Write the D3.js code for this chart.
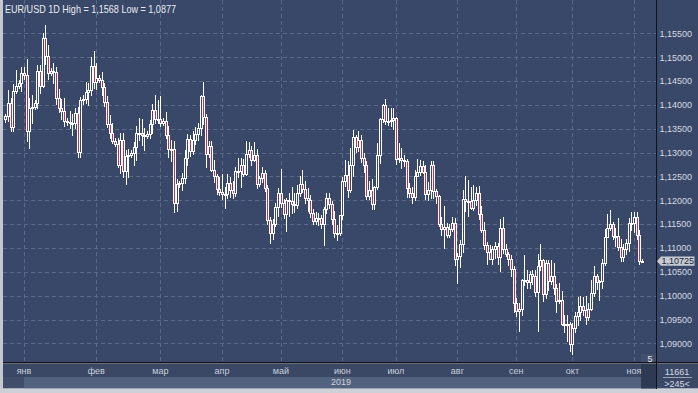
<!DOCTYPE html>
<html><head><meta charset="utf-8">
<script src="https://cdn.jsdelivr.net/npm/d3@7"></script>
<style>html,body{margin:0;padding:0;background:#c9cdd3;overflow:hidden}svg{display:block}</style>
</head><body><svg id="c" width="698" height="393"></svg>
<script>
const dates = [
"2018-12-23","2018-12-24","2018-12-26","2018-12-27","2018-12-28","2018-12-30","2018-12-31",
"2019-01-01","2019-01-02","2019-01-03","2019-01-04","2019-01-06","2019-01-07","2019-01-08","2019-01-09","2019-01-10","2019-01-11","2019-01-13","2019-01-14","2019-01-15","2019-01-16","2019-01-17","2019-01-18","2019-01-20","2019-01-21","2019-01-22","2019-01-23","2019-01-24","2019-01-25","2019-01-27","2019-01-28","2019-01-29","2019-01-30","2019-01-31",
"2019-02-01","2019-02-03","2019-02-04","2019-02-05","2019-02-06","2019-02-07","2019-02-08","2019-02-10","2019-02-11","2019-02-12","2019-02-13","2019-02-14","2019-02-15","2019-02-17","2019-02-18","2019-02-19","2019-02-20","2019-02-21","2019-02-22","2019-02-24","2019-02-25","2019-02-26","2019-02-27","2019-02-28",
"2019-03-01","2019-03-03","2019-03-04","2019-03-05","2019-03-06","2019-03-07","2019-03-08","2019-03-10","2019-03-11","2019-03-12","2019-03-13","2019-03-14","2019-03-15","2019-03-18","2019-03-19","2019-03-20","2019-03-21","2019-03-22","2019-03-25","2019-03-26","2019-03-27","2019-03-28","2019-03-29",
"2019-04-01","2019-04-02","2019-04-03","2019-04-04","2019-04-05","2019-04-08","2019-04-09","2019-04-10","2019-04-11","2019-04-12","2019-04-15","2019-04-16","2019-04-17","2019-04-18","2019-04-19","2019-04-22","2019-04-23","2019-04-24","2019-04-25","2019-04-26","2019-04-29","2019-04-30",
"2019-05-01","2019-05-02","2019-05-03","2019-05-06","2019-05-07","2019-05-08","2019-05-09","2019-05-10","2019-05-13","2019-05-14","2019-05-15","2019-05-16","2019-05-17","2019-05-20","2019-05-21","2019-05-22","2019-05-23","2019-05-24","2019-05-27","2019-05-28","2019-05-29","2019-05-30","2019-05-31",
"2019-06-03","2019-06-04","2019-06-05","2019-06-06","2019-06-07","2019-06-10","2019-06-11","2019-06-12","2019-06-13","2019-06-14","2019-06-17","2019-06-18","2019-06-19","2019-06-20","2019-06-21","2019-06-24","2019-06-25","2019-06-26","2019-06-27","2019-06-28",
"2019-07-01","2019-07-02","2019-07-03","2019-07-04","2019-07-05","2019-07-08","2019-07-09","2019-07-10","2019-07-11","2019-07-12","2019-07-15","2019-07-16","2019-07-17","2019-07-18","2019-07-19","2019-07-22","2019-07-23","2019-07-24","2019-07-25","2019-07-26","2019-07-29","2019-07-30","2019-07-31",
"2019-08-01","2019-08-02","2019-08-05","2019-08-06","2019-08-07","2019-08-08","2019-08-09","2019-08-12","2019-08-13","2019-08-14","2019-08-15","2019-08-16","2019-08-19","2019-08-20","2019-08-21","2019-08-22","2019-08-23","2019-08-26","2019-08-27","2019-08-28","2019-08-29","2019-08-30",
"2019-09-02","2019-09-03","2019-09-04","2019-09-05","2019-09-06","2019-09-09","2019-09-10","2019-09-11","2019-09-12","2019-09-13","2019-09-16","2019-09-17","2019-09-18","2019-09-19","2019-09-20","2019-09-23","2019-09-24","2019-09-25","2019-09-26","2019-09-27","2019-09-30",
"2019-10-01","2019-10-02","2019-10-03","2019-10-04","2019-10-07","2019-10-08","2019-10-09","2019-10-10","2019-10-11","2019-10-14","2019-10-15","2019-10-16","2019-10-17","2019-10-18","2019-10-21","2019-10-22","2019-10-23","2019-10-24","2019-10-25","2019-10-28","2019-10-29","2019-10-30","2019-10-31",
"2019-11-01","2019-11-04","2019-11-05","2019-11-06"];

const open = [
1.1370,1.1376,1.1405,1.1353,1.1430,1.1440,1.1445,
1.1467,1.1462,1.1345,1.1393,1.1395,1.1405,1.1471,1.1440,1.1540,1.1502,1.1468,1.1472,1.1470,1.1415,1.1393,1.1388,1.1366,1.1365,1.1362,1.1362,1.1384,1.1302,1.1410,1.1412,1.1428,1.1432,1.1481,
1.1448,1.1456,1.1452,1.1437,1.1406,1.1361,1.1342,1.1325,1.1318,1.1275,1.1326,1.1261,1.1294,1.1296,1.1300,1.1311,1.1342,1.1342,1.1337,1.1334,1.1340,1.1359,1.1390,1.1371,
1.1371,1.1363,1.1366,1.1338,1.1308,1.1307,1.1194,1.1234,1.1236,1.1246,1.1288,1.1328,1.1303,1.1326,1.1340,1.1352,1.1418,1.1375,1.1298,1.1313,1.1263,1.1250,1.1223,
1.1217,1.1214,1.1213,1.1236,1.1221,1.1216,1.1262,1.1262,1.1275,1.1256,1.1297,1.1305,1.1284,1.1295,1.1235,1.1246,1.1258,1.1226,1.1158,1.1131,1.1150,1.1185,
1.1216,1.1195,1.1171,1.1200,1.1198,1.1193,1.1191,1.1215,1.1234,1.1223,1.1205,1.1201,1.1174,1.1157,1.1164,1.1162,1.1150,1.1181,1.1205,1.1192,1.1160,1.1131,1.1132,
1.1169,1.1240,1.1253,1.1222,1.1275,1.1333,1.1312,1.1327,1.1289,1.1274,1.1210,1.1221,1.1193,1.1228,1.1295,1.1370,1.1400,1.1367,1.1366,1.1369,
1.1372,1.1286,1.1288,1.1284,1.1282,1.1225,1.1215,1.1208,1.1252,1.1259,1.1271,1.1260,1.1213,1.1222,1.1274,1.1220,1.1209,1.1150,1.1140,1.1145,1.1127,1.1140,1.1152,
1.1077,1.1084,1.1108,1.1203,1.1199,1.1199,1.1183,1.1201,1.1215,1.1171,1.1138,1.1107,1.1092,1.1077,1.1097,1.1105,1.1082,1.1142,1.1099,1.1088,1.1078,1.1057,
1.0985,1.0968,1.0972,1.1033,1.1034,1.1028,1.1045,1.1042,1.1008,1.1063,1.1074,1.1003,1.1069,1.1030,1.1042,1.1017,1.0990,1.0991,1.0941,1.0939,1.0940,
1.0899,1.0933,1.0957,1.0965,1.0978,1.0971,1.0955,1.0973,1.1005,1.1041,1.1028,1.1031,1.1068,1.1124,1.1143,1.1150,1.1126,1.1126,1.1103,1.1082,1.1098,1.1111,1.1152,
1.1152,1.1166,1.1128,1.1073];

const high = [
1.1380,1.1432,1.1414,1.1443,1.1474,1.1452,1.1480,
1.1480,1.1497,1.1414,1.1420,1.1410,1.1484,1.1484,1.1550,1.1568,1.1525,1.1478,1.1487,1.1480,1.1434,1.1412,1.1414,1.1372,1.1387,1.1381,1.1394,1.1396,1.1417,1.1420,1.1448,1.1445,1.1500,1.1514,
1.1488,1.1462,1.1469,1.1446,1.1418,1.1378,1.1363,1.1330,1.1331,1.1341,1.1341,1.1305,1.1307,1.1305,1.1323,1.1355,1.1372,1.1370,1.1351,1.1345,1.1368,1.1401,1.1420,1.1410,
1.1419,1.1372,1.1386,1.1355,1.1327,1.1324,1.1245,1.1240,1.1257,1.1305,1.1339,1.1338,1.1345,1.1353,1.1362,1.1421,1.1448,1.1380,1.1325,1.1325,1.1285,1.1256,1.1248,
1.1255,1.1229,1.1255,1.1248,1.1240,1.1270,1.1288,1.1288,1.1286,1.1324,1.1323,1.1314,1.1323,1.1308,1.1250,1.1270,1.1264,1.1232,1.1165,1.1160,1.1195,1.1225,
1.1265,1.1203,1.1205,1.1215,1.1229,1.1216,1.1233,1.1251,1.1264,1.1240,1.1225,1.1212,1.1182,1.1176,1.1174,1.1170,1.1185,1.1216,1.1215,1.1198,1.1177,1.1148,1.1170,
1.1248,1.1285,1.1283,1.1309,1.1348,1.1336,1.1345,1.1338,1.1299,1.1283,1.1240,1.1245,1.1231,1.1320,1.1373,1.1402,1.1412,1.1394,1.1394,1.1393,
1.1375,1.1321,1.1309,1.1296,1.1286,1.1236,1.1228,1.1263,1.1286,1.1285,1.1282,1.1275,1.1238,1.1282,1.1283,1.1223,1.1212,1.1165,1.1188,1.1153,1.1150,1.1166,1.1163,
1.1089,1.1117,1.1222,1.1250,1.1243,1.1229,1.1232,1.1229,1.1230,1.1189,1.1154,1.1113,1.1107,1.1104,1.1112,1.1110,1.1160,1.1165,1.1109,1.1092,1.1086,1.1063,
1.0995,1.0985,1.1035,1.1085,1.1055,1.1052,1.1055,1.1055,1.1087,1.1109,1.1076,1.1075,1.1075,1.1075,1.1069,1.1025,1.1026,1.1009,1.0960,1.0960,1.0944,
1.0943,1.0966,1.0998,1.0999,1.0998,1.0999,1.0985,1.1034,1.1063,1.1045,1.1034,1.1077,1.1140,1.1172,1.1179,1.1155,1.1142,1.1163,1.1118,1.1108,1.1119,1.1163,1.1175,
1.1176,1.1176,1.1138,1.1076];

const low = [
1.1365,1.1366,1.1346,1.1345,1.1425,1.1436,1.1430,
1.1455,1.1325,1.1309,1.1362,1.1392,1.1394,1.1426,1.1437,1.1486,1.1455,1.1462,1.1445,1.1403,1.1385,1.1370,1.1355,1.1358,1.1352,1.1336,1.1351,1.1290,1.1290,1.1402,1.1404,1.1400,1.1420,1.1436,
1.1433,1.1448,1.1420,1.1398,1.1354,1.1331,1.1320,1.1314,1.1270,1.1257,1.1249,1.1234,1.1249,1.1290,1.1275,1.1285,1.1326,1.1316,1.1306,1.1330,1.1331,1.1342,1.1362,1.1362,
1.1355,1.1358,1.1330,1.1290,1.1283,1.1176,1.1177,1.1228,1.1222,1.1236,1.1274,1.1293,1.1298,1.1318,1.1326,1.1337,1.1360,1.1269,1.1290,1.1262,1.1239,1.1213,1.1212,
1.1203,1.1184,1.1205,1.1208,1.1205,1.1210,1.1249,1.1227,1.1250,1.1253,1.1290,1.1274,1.1283,1.1226,1.1230,1.1238,1.1219,1.1150,1.1111,1.1118,1.1146,1.1168,
1.1187,1.1162,1.1136,1.1168,1.1174,1.1175,1.1184,1.1209,1.1217,1.1195,1.1177,1.1166,1.1151,1.1151,1.1148,1.1143,1.1107,1.1173,1.1184,1.1150,1.1124,1.1116,1.1128,
1.1160,1.1231,1.1206,1.1218,1.1252,1.1302,1.1303,1.1280,1.1260,1.1202,1.1202,1.1181,1.1182,1.1224,1.1278,1.1364,1.1360,1.1357,1.1355,1.1350,
1.1276,1.1280,1.1267,1.1272,1.1207,1.1207,1.1194,1.1201,1.1250,1.1254,1.1258,1.1202,1.1200,1.1205,1.1205,1.1195,1.1146,1.1127,1.1101,1.1124,1.1123,1.1136,1.1065,
1.1027,1.1061,1.1091,1.1178,1.1167,1.1181,1.1180,1.1191,1.1160,1.1134,1.1097,1.1066,1.1077,1.1067,1.1079,1.1067,1.1052,1.1090,1.1083,1.1065,1.1042,1.0965,
1.0958,1.0926,1.0960,1.1022,1.1016,1.1017,1.1025,1.0999,1.0927,1.1055,1.0990,1.0995,1.1011,1.1025,1.1004,1.0966,1.0984,1.0939,1.0924,1.0905,1.0885,
1.0877,1.0925,1.0939,1.0950,1.0960,1.0940,1.0949,1.0970,1.1000,1.1015,1.0991,1.1017,1.1064,1.1124,1.1137,1.1120,1.1105,1.1096,1.1072,1.1073,1.1087,1.1093,1.1137,
1.1133,1.1120,1.1066,1.1070];

const close = [
1.1376,1.1405,1.1353,1.1430,1.1440,1.1445,1.1467,
1.1462,1.1345,1.1393,1.1395,1.1405,1.1471,1.1440,1.1540,1.1502,1.1468,1.1472,1.1470,1.1415,1.1393,1.1388,1.1366,1.1365,1.1362,1.1362,1.1384,1.1302,1.1410,1.1412,1.1428,1.1432,1.1481,1.1448,
1.1456,1.1452,1.1437,1.1406,1.1361,1.1342,1.1325,1.1318,1.1275,1.1326,1.1261,1.1294,1.1296,1.1300,1.1311,1.1342,1.1342,1.1337,1.1334,1.1340,1.1359,1.1390,1.1371,1.1371,
1.1363,1.1366,1.1338,1.1308,1.1307,1.1194,1.1234,1.1236,1.1246,1.1288,1.1328,1.1303,1.1326,1.1340,1.1352,1.1418,1.1375,1.1298,1.1313,1.1263,1.1250,1.1223,1.1217,
1.1214,1.1213,1.1236,1.1221,1.1216,1.1262,1.1262,1.1275,1.1256,1.1297,1.1305,1.1284,1.1295,1.1235,1.1246,1.1258,1.1226,1.1158,1.1131,1.1150,1.1185,1.1216,
1.1195,1.1171,1.1200,1.1198,1.1193,1.1191,1.1215,1.1234,1.1223,1.1205,1.1201,1.1174,1.1157,1.1164,1.1162,1.1150,1.1181,1.1205,1.1192,1.1160,1.1131,1.1132,1.1169,
1.1240,1.1253,1.1222,1.1275,1.1333,1.1312,1.1327,1.1289,1.1274,1.1210,1.1221,1.1193,1.1228,1.1295,1.1370,1.1400,1.1367,1.1366,1.1369,1.1372,
1.1286,1.1288,1.1284,1.1282,1.1225,1.1215,1.1208,1.1252,1.1259,1.1271,1.1260,1.1213,1.1222,1.1274,1.1220,1.1209,1.1150,1.1140,1.1145,1.1127,1.1140,1.1152,1.1077,
1.1084,1.1108,1.1203,1.1199,1.1199,1.1183,1.1201,1.1215,1.1171,1.1138,1.1107,1.1092,1.1077,1.1097,1.1105,1.1082,1.1142,1.1099,1.1088,1.1078,1.1057,1.0985,
1.0968,1.0972,1.1033,1.1034,1.1028,1.1045,1.1042,1.1008,1.1063,1.1074,1.1003,1.1069,1.1030,1.1042,1.1017,1.0990,1.0991,1.0941,1.0939,1.0940,1.0899,
1.0933,1.0957,1.0965,1.0978,1.0971,1.0955,1.0973,1.1005,1.1041,1.1028,1.1031,1.1068,1.1124,1.1143,1.1150,1.1126,1.1126,1.1103,1.1082,1.1098,1.1111,1.1152,1.1152,
1.1166,1.1128,1.1073,1.10725];

const monthNames = ["янв","фев","мар","апр","май","июн","июл","авг","сен","окт","ноя","дек"];
const priceTicks = [1.090,1.095,1.100,1.105,1.110,1.115,1.120,1.125,1.130,1.135,1.140,1.145,1.150,1.155];
const symbol = "EUR/USD", timeframe = "1D";
const yearLabel = "2019";
const barsLabel = "5", counterTop = "11661", counterBottom = ">245<";

const C = {bg:"#394868", grid:"#5a6987", red:"#c2304f", text:"#d6dbe3", frame:"#c4c9d0"};
const svg = d3.select("#c");
const data = dates.map((d,i)=>({d, o:open[i], h:high[i], l:low[i], c:close[i]}));

const x = d3.scalePoint().domain(dates).range([5.3, 642]);
const y = d3.scaleLinear().domain([1.0859, 1.1620]).range([363, 0]);
const fmtP = v => d3.format(".5f")(v).replace(".", ",");
const fmt4 = v => d3.format(".4f")(v).replace(".", ",");
const font = "'Liberation Sans', Arial, sans-serif";

// frame & panels
svg.append("rect").attr("x",0).attr("y",0).attr("width",698).attr("height",393).attr("fill",C.frame);
svg.append("rect").attr("x",3).attr("y",0).attr("width",654).attr("height",363).attr("fill",C.bg);
svg.append("rect").attr("x",657).attr("y",0).attr("width",41).attr("height",363).attr("fill",C.bg);
svg.append("rect").attr("x",3).attr("y",364).attr("width",695).attr("height",13).attr("fill","#3a4866");
svg.append("rect").attr("x",3).attr("y",377).attr("width",654).attr("height",11.5).attr("fill","#404e6a");
svg.append("rect").attr("x",24).attr("y",377).attr("width",617).attr("height",11.5).attr("fill","#53627d");
svg.append("rect").attr("x",657).attr("y",377).attr("width",41).attr("height",11.5).attr("fill","#3a4866");
svg.append("rect").attr("x",0).attr("y",388.5).attr("width",698).attr("height",4.5).attr("fill","#cdd1d7");

// grid
const monthStarts = data.filter((k,i)=> i>0 && k.d.startsWith(yearLabel) && k.d.slice(0,7)!==data[i-1].d.slice(0,7));
svg.append("g").selectAll("line").data(priceTicks).join("line")
  .attr("x1",3).attr("x2",656).attr("y1",t=>Math.round(y(t))+0.5).attr("y2",t=>Math.round(y(t))+0.5)
  .attr("stroke",C.grid).attr("stroke-dasharray","4,3");
svg.append("g").selectAll("line").data(monthStarts).join("line")
  .attr("x1",k=>Math.round(x(k.d))+0.5).attr("x2",k=>Math.round(x(k.d))+0.5).attr("y1",0).attr("y2",362)
  .attr("stroke",C.grid).attr("stroke-dasharray","4,3");

// candles
const cg = svg.append("g").selectAll("g").data(data).join("g");
cg.append("line")
  .attr("x1",k=>Math.round(x(k.d))+0.5).attr("x2",k=>Math.round(x(k.d))+0.5)
  .attr("y1",k=>Math.round(y(k.h))).attr("y2",k=>Math.round(y(k.l))+1)
  .attr("stroke","#ffffff");
cg.append("rect")
  .attr("x",k=>Math.round(x(k.d))-0.5)
  .attr("y",k=>Math.round(y(Math.max(k.o,k.c)))+0.5)
  .attr("width",2)
  .attr("height",k=>Math.max(1, Math.round(y(Math.min(k.o,k.c)))-Math.round(y(Math.max(k.o,k.c)))))
  .attr("fill",k=>k.c<k.o?C.red:C.bg).attr("stroke","#ffffff").attr("stroke-width",1);

// scroll box / bars tab
svg.append("rect").attr("x",641).attr("y",354).attr("width",15).attr("height",8).attr("fill","#44506b");
svg.append("rect").attr("x",641).attr("y",364).attr("width",15).attr("height",24.5).attr("fill","#2e3a54");
svg.append("text").attr("x",650).attr("y",361.5).attr("text-anchor","middle").attr("font-family",font).attr("font-size",9).attr("fill","#e4e8ee").text(barsLabel);

// frame lines
svg.append("rect").attr("x",3).attr("y",362).attr("width",695).attr("height",1.5).attr("fill","#0e121a");
svg.append("rect").attr("x",656).attr("y",0).attr("width",1).attr("height",389).attr("fill","#0e121a");

// y labels
svg.append("g").selectAll("text").data(priceTicks).join("text")
  .attr("x",659.5).attr("y",t=>y(t)+3.3).attr("font-family",font).attr("font-size",9)
  .attr("fill",C.text).text(fmtP);

// last price marker
const last = data[data.length-1];
const ly = y(last.c);
svg.append("path").attr("d",`M657,${ly} L661,${ly-4.7} L694.5,${ly-4.7} L694.5,${ly+4.7} L661,${ly+4.7} Z`).attr("fill","#c6cbd3");
svg.append("text").attr("x",661.5).attr("y",ly+3.3).attr("font-family",font).attr("font-size",9).attr("fill","#1f2636").text(fmtP(last.c));

// month labels
svg.append("g").selectAll("text").data(monthStarts).join("text")
  .attr("x",k=>x(k.d)).attr("y",374).attr("text-anchor","middle").attr("font-family",font).attr("font-size",9)
  .attr("fill","#c8cfda").text(k=>monthNames[+k.d.slice(5,7)-1]);
svg.append("text").attr("x",331).attr("y",385).attr("font-family",font).attr("font-size",9).attr("fill","#d0d6df").text(yearLabel);

// counters
svg.append("text").attr("x",677).attr("y",374.5).attr("text-anchor","middle").attr("font-family",font).attr("font-size",9).attr("fill","#d6dbe3").text(counterTop);
svg.append("line").attr("x1",663).attr("x2",692).attr("y1",377.5).attr("y2",377.5).attr("stroke","#9aa4b4");
svg.append("text").attr("x",677).attr("y",386.5).attr("text-anchor","middle").attr("font-family",font).attr("font-size",9).attr("fill","#d6dbe3").text(counterBottom);

// title
const hi = d3.max(high), lo = d3.min(low);
svg.append("text").attr("x",5).attr("y",13).attr("font-family",font).attr("font-size",10.5)
  .attr("textLength",171).attr("lengthAdjust","spacingAndGlyphs")
  .attr("fill","#e8ecf2").text(`${symbol} ${timeframe} High = ${fmt4(hi)} Low = ${fmt4(lo)}`);
</script></body></html>
